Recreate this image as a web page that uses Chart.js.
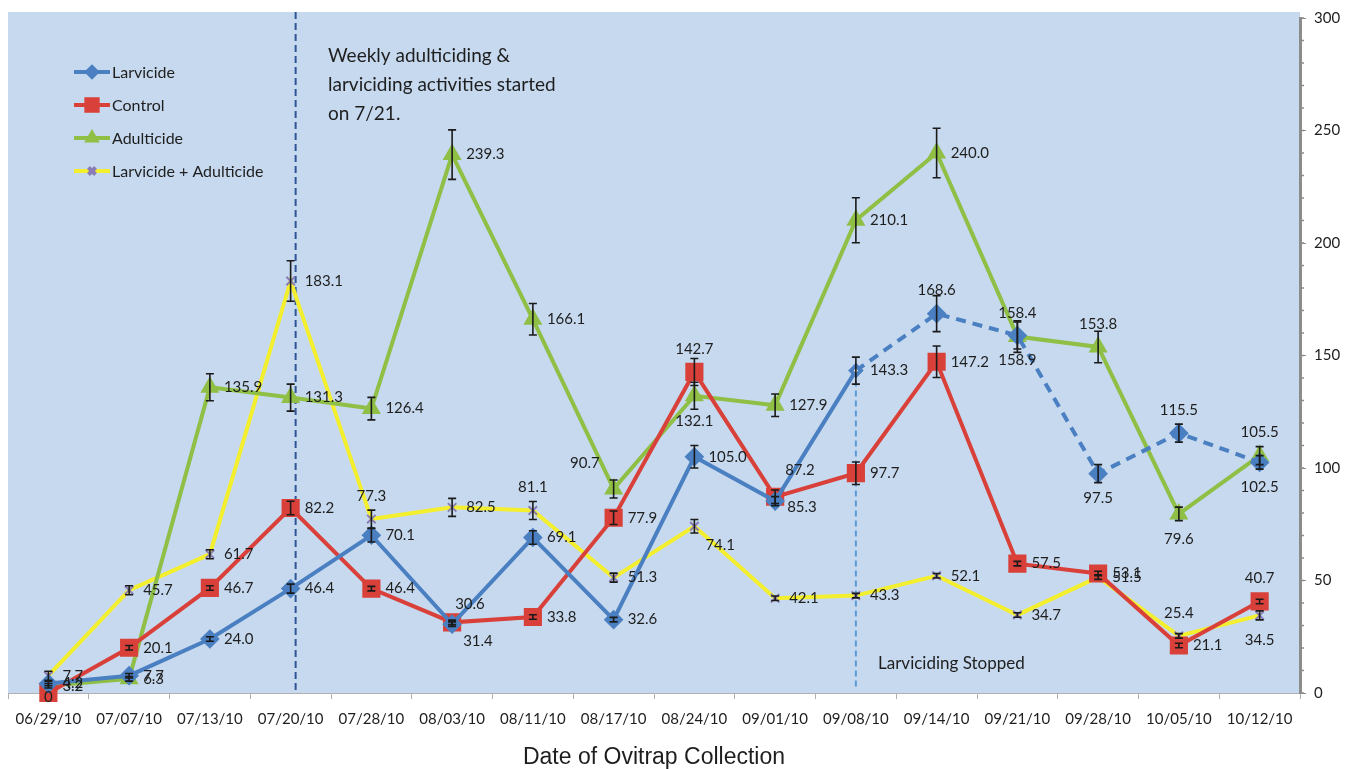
<!DOCTYPE html>
<html lang="en">
<head>
    <meta charset="UTF-8">
    <title>Ovitrap collection</title>
    <script src="https://cdn.jsdelivr.net/npm/chart.js"></script>
    <style>
        body { margin: 0; background: #fff; }
    </style>
</head>
<body>
<canvas id="graph" width="1356" height="769"></canvas>
<script>
    const dates = ['06/29/10', '07/07/10', '07/13/10', '07/20/10', '07/28/10', '08/03/10', '08/11/10', '08/17/10',
        '08/24/10', '09/01/10', '09/08/10', '09/14/10', '09/21/10', '09/28/10', '10/05/10', '10/12/10'];

    const larvicide = [4.2, 7.7, 24.0, 46.4, 70.1, 30.6, 69.1, 32.6, 105.0, 85.3, 143.3, 168.6, 158.9, 97.5, 115.5, 102.5];
    const control = [0, 20.1, 46.7, 82.2, 46.4, 31.4, 33.8, 77.9, 142.7, 87.2, 97.7, 147.2, 57.5, 53.1, 21.1, 40.7];
    const adulticide = [3.2, 6.3, 135.9, 131.3, 126.4, 239.3, 166.1, 90.7, 132.1, 127.9, 210.1, 240.0, 158.4, 153.8, 79.6, 105.5];
    const both = [7.7, 45.7, 61.7, 183.1, 77.3, 82.5, 81.1, 51.3, 74.1, 42.1, 43.3, 52.1, 34.7, 51.5, 25.4, 34.5];

    // error bar half-heights
    const larvicideErr = [1, 1, 1, 2, 3, 1, 3, 1, 5, 2, 6, 8, 6, 4, 4, 3];
    const controlErr = [0, 1, 1, 3, 1, 1, 1, 3, 6, 3, 5, 7, 1, 1, 1, 1];
    const adulticideErr = [1, 1, 6, 6, 5, 11, 7, 4, 6, 5, 10, 11, 7, 7, 3, 4];
    const bothErr = [2, 2, 2, 9, 4, 4, 4, 2, 3, 1, 1, 1, 1, 1, 1, 2];

    // where each value label sits (see labelOffsets below)
    const larvicidePos = ['r', 'r', 'r', 'r', 'r', 'au', 'r', 'r', 'r', 'rb', 'r', 'a', 'b', 'b', 'a', 'b'];
    const controlPos = ['bz', 'r', 'r', 'r', 'r', 'br', 'r', 'r', 'a', 'ar', 'r', 'r', 'r', 'r', 'r', 'a'];
    const adulticidePos = ['r', 'r', 'r', 'r', 'r', 'r', 'r', 'al', 'b', 'r', 'r', 'r', 'a', 'a', 'b', 'a'];
    const bothPos = ['r', 'r', 'r', 'r', 'a', 'r', 'a', 'r', 'br', 'r', 'r', 'r', 'r', 'r', 'a', 'b'];

    const labelOffsets = {
        r: [14, 0, 'left'],
        a: [0, -23, 'center'],
        b: [0, 25, 'center'],
        bz: [0, 4, 'center'],
        br: [11, 19, 'left'],
        rb: [12, 6, 'left'],
        ar: [10, -27, 'left'],
        au: [3, -20, 'left'],
        al: [-14, -26, 'right'],
    };

    const BLUE = '#4a7fc1';
    const RED = '#d9403a';
    const GREEN = '#8fbf45';
    const YELLOW = '#f4ef2e';
    const CROSS = '#8a7db5';
    const FONT = 'Lato, "Open Sans", sans-serif';

    const extras = {
        id: 'extras',
        beforeDraw(chart) {
            const {ctx, chartArea: a} = chart;
            ctx.save();
            ctx.fillStyle = '#fff';
            ctx.fillRect(0, 0, chart.width, chart.height);
            ctx.fillStyle = '#c6d9ee';
            ctx.fillRect(a.left, a.top - 6, a.right - a.left, a.bottom - a.top + 6);
            ctx.restore();
        },
        beforeDatasetsDraw(chart) {
            const {ctx, chartArea: a, scales: {x, y}} = chart;
            ctx.save();
            // start of weekly activities
            const x1 = x.getPixelForValue(3) + 5;
            ctx.strokeStyle = '#2f5596';
            ctx.lineWidth = 2;
            ctx.setLineDash([7, 4]);
            ctx.beginPath();
            ctx.moveTo(x1, a.top - 6);
            ctx.lineTo(x1, a.bottom);
            ctx.stroke();
            // larviciding stopped
            const x2 = x.getPixelForValue(10);
            ctx.strokeStyle = '#5b9bd5';
            ctx.setLineDash([6, 4]);
            ctx.beginPath();
            ctx.moveTo(x2, y.getPixelForValue(larvicide[10]));
            ctx.lineTo(x2, a.bottom - 6);
            ctx.stroke();
            ctx.restore();
        },
        afterDatasetsDraw(chart) {
            const {ctx, chartArea: a, scales: {x, y}} = chart;
            const errs = [larvicideErr, controlErr, adulticideErr, bothErr];
            const poss = [larvicidePos, controlPos, adulticidePos, bothPos];
            ctx.save();
            // error bars
            ctx.strokeStyle = '#1a1a1a';
            ctx.lineWidth = 1.6;
            chart.data.datasets.forEach((ds, i) => {
                ds.data.forEach((v, j) => {
                    const e = errs[i][j];
                    if (!e) return;
                    const px = x.getPixelForValue(j);
                    const t = y.getPixelForValue(v + e), b = y.getPixelForValue(v - e);
                    ctx.beginPath();
                    ctx.moveTo(px, t); ctx.lineTo(px, b);
                    ctx.moveTo(px - 4, t); ctx.lineTo(px + 4, t);
                    ctx.moveTo(px - 4, b); ctx.lineTo(px + 4, b);
                    ctx.stroke();
                });
            });
            // value labels
            ctx.fillStyle = '#1e1e1e';
            ctx.font = '15px ' + FONT;
            ctx.textBaseline = 'middle';
            chart.data.datasets.forEach((ds, i) => {
                ds.data.forEach((v, j) => {
                    const px = x.getPixelForValue(j), py = y.getPixelForValue(v);
                    const txt = v === 0 ? '0' : v.toFixed(1);
                    const o = labelOffsets[poss[i][j]];
                    ctx.textAlign = o[2];
                    ctx.fillText(txt, px + o[0], py + o[1]);
                });
            });
            // annotations
            ctx.textAlign = 'left';
            ctx.font = '19px ' + FONT;
            ['Weekly adulticiding &', 'larviciding activities started', 'on 7/21.'].forEach((s, k) => {
                ctx.fillText(s, 328, 56 + k * 29);
            });
            ctx.font = '17px ' + FONT;
            ctx.fillText('Larviciding Stopped', 878, 664);
            // minor ticks on the right axis
            ctx.strokeStyle = '#8c8c8c';
            ctx.lineWidth = 1.5;
            for (let v = 0; v <= 300; v += 10) {
                const py = y.getPixelForValue(v);
                ctx.beginPath();
                ctx.moveTo(a.right, py);
                ctx.lineTo(a.right + 4, py);
                ctx.stroke();
            }
            // legend
            const items = [
                ['Larvicide', BLUE, 'rectRot', BLUE],
                ['Control', RED, 'rect', RED],
                ['Adulticide', GREEN, 'triangle', GREEN],
                ['Larvicide + Adulticide', YELLOW, 'crossRot', CROSS],
            ];
            items.forEach((it, k) => {
                const ly = 72 + k * 33;
                ctx.strokeStyle = it[1];
                ctx.lineWidth = 4;
                ctx.setLineDash([]);
                ctx.beginPath();
                ctx.moveTo(74, ly); ctx.lineTo(110, ly);
                ctx.stroke();
                ctx.fillStyle = it[3];
                ctx.strokeStyle = it[3];
                Chart.helpers.drawPoint(ctx, {
                    pointStyle: it[2], radius: it[2] === 'rect' ? 8 : 5, rotation: 0,
                    borderWidth: it[2] === 'crossRot' ? 1.8 : 1
                }, 92, ly);
                ctx.fillStyle = '#1e1e1e';
                ctx.font = '16px ' + FONT;
                ctx.fillText(it[0], 112, ly + 1);
            });
            ctx.restore();
        }
    };

    const chart = new Chart(document.getElementById('graph'), {
        type: 'line',
        data: {
            labels: dates,
            datasets: [
                {
                    label: 'Larvicide',
                    data: larvicide,
                    borderColor: BLUE,
                    backgroundColor: BLUE,
                    pointBackgroundColor: larvicide.map((v, i) => i === 10 ? '#fbf8dc' : BLUE),
                    borderWidth: 4,
                    pointStyle: 'rectRot',
                    pointRadius: larvicide.map((v, i) => i === 10 ? 5 : 7),
                    clip: false,
                    segment: {
                        borderDash: c => c.p0DataIndex >= 10 ? [10, 7] : undefined,
                    },
                },
                {
                    label: 'Control',
                    data: control,
                    borderColor: RED,
                    backgroundColor: RED,
                    borderWidth: 4,
                    pointStyle: 'rect',
                    pointRadius: 10,
                    clip: false,
                },
                {
                    label: 'Adulticide',
                    data: adulticide,
                    borderColor: GREEN,
                    backgroundColor: GREEN,
                    borderWidth: 4,
                    pointStyle: 'triangle',
                    pointRadius: 7,
                    clip: false,
                },
                {
                    label: 'Larvicide + Adulticide',
                    data: both,
                    borderColor: YELLOW,
                    backgroundColor: CROSS,
                    borderWidth: 4,
                    pointStyle: 'crossRot',
                    pointRadius: 6,
                    pointBorderColor: CROSS,
                    pointBorderWidth: 2,
                    clip: false,
                },
            ],
        },
        options: {
            responsive: false,
            animation: false,
            layout: {
                autoPadding: false,
                padding: {left: 8, top: 18, right: 0, bottom: 0},
            },
            plugins: {
                legend: {display: false},
                tooltip: {enabled: false},
            },
            scales: {
                x: {
                    offset: true,
                    grid: {
                        offset: true,
                        drawOnChartArea: false,
                        tickLength: 6,
                        color: '#b0b0b0',
                    },
                    border: {color: '#b0b0b0', width: 1},
                    ticks: {
                        color: '#1e1e1e',
                        font: {family: FONT, size: 15, lineHeight: 1.6},
                        maxRotation: 0,
                        autoSkip: false,
                        padding: 8,
                    },
                    title: {
                        display: true,
                        text: 'Date of Ovitrap Collection',
                        color: '#1e1e1e',
                        font: {family: '"Liberation Sans", Arial, sans-serif', size: 23, lineHeight: 1},
                        padding: {top: 0, bottom: 0},
                    },
                    afterFit: s => {
                        s.height = 76;
                        s.paddingLeft = 0;
                        s.paddingRight = 0;
                    },
                },
                y: {
                    position: 'right',
                    min: 0,
                    max: 300,
                    grid: {
                        drawOnChartArea: false,
                        tickLength: 6,
                        color: '#8c8c8c',
                    },
                    border: {color: '#8c8c8c', width: 3},
                    ticks: {
                        stepSize: 50,
                        color: '#1e1e1e',
                        font: {family: FONT, size: 15},
                        padding: 8,
                    },
                    afterFit: s => { s.width = 56; },
                },
            },
        },
        plugins: [extras],
    });
</script>
</body>
</html>
